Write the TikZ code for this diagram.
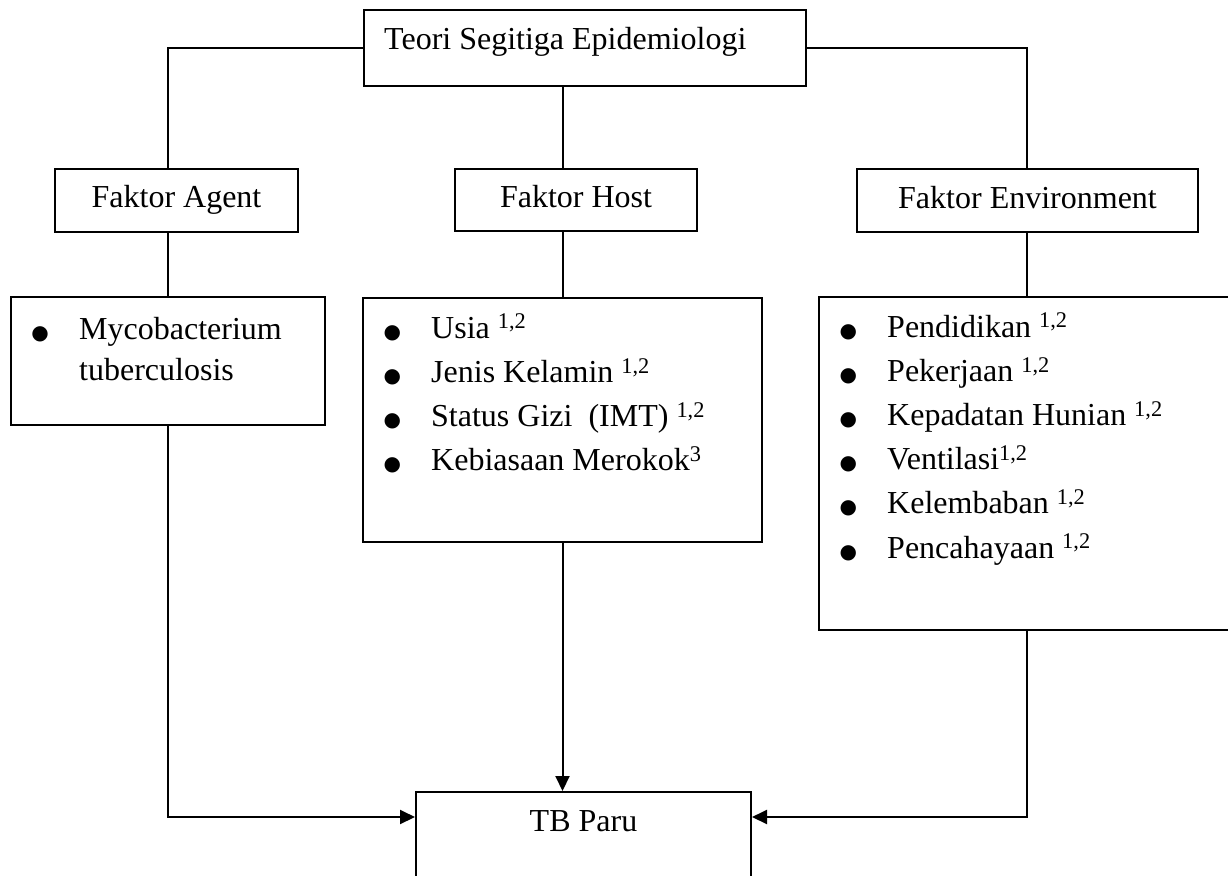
\documentclass[tikz,border=0pt]{standalone}
\usepackage{fontspec}
\setmainfont{Liberation Serif}
\newfontfamily\dejavu{DejaVu Sans}
\usepackage{tikz}
\usetikzlibrary{arrows.meta}
\tikzstyle{squared} = [rectangle, draw=black, line width=2pt, inner sep=0pt, text height=22pt, text depth=7pt, text centered]
\tikzstyle{label} = [inner sep=0pt]
\tikzstyle{connect} = [line width=2pt]
\tikzstyle{connectarrow} = [line width=2pt,-{Triangle[length=15pt,width=14pt]}]
\newcommand{\bul}[1]{\makebox[46pt][l]{\hspace{-1.7pt}{\dejavu\fontsize{20}{24}\selectfont ●}}#1}

\begin{document}
\begin{tikzpicture}[x=1pt,y=-1pt,font=\fontsize{32}{44.2}\selectfont]
			\clip (0,0) rectangle (1228,875);

			\node (top) [squared, minimum width=442, minimum height=76] at (585,48) {};
			\node (agent) [squared, minimum width=243, minimum height=63] at (176.5,200) {Faktor Agent};
			\node (host) [squared, minimum width=242, minimum height=62] at (576,200) {Faktor Host};
			\node (env) [squared, minimum width=341, minimum height=63] at (1027.5,200.5) {Faktor Environment};
			\node (myco) [squared, minimum width=314, minimum height=128] at (168,361) {};
			\node (hostlist) [squared, minimum width=399, minimum height=244] at (562.5,420) {};
			\node (envlist) [squared, minimum width=416, minimum height=333] at (1027,463.5) {};
			\node (tb) [squared, minimum width=335, minimum height=116] at (583.5,850) {};

			\node (toptext) [label, anchor=base west] at ([xshift=21pt,yshift=-40pt]top.north west) {Teori Segitiga Epidemiologi};
			\node (tbtext) [label, anchor=base] at ([yshift=-40pt]tb.north) {TB Paru};
			\node (mycotext) [label, anchor=base west] at ([xshift=23pt,yshift=-43pt]myco.north west) {\parbox[t]{290pt}{\fontsize{32}{41}\selectfont
				\bul{Mycobacterium}\\ \hspace*{46pt}tuberculosis}};
			\node (hosttext) [label, anchor=base west] at ([xshift=23pt,yshift=-41pt]hostlist.north west) {\parbox[t]{370pt}{%
				\bul{Usia \textsuperscript{1,2}}\\
				\bul{Jenis Kelamin \textsuperscript{1,2}}\\
				\bul{Status Gizi\ \ (IMT) \textsuperscript{1,2}}\\
				\bul{Kebiasaan Merokok\textsuperscript{3}}}};
			\node (envtext) [label, anchor=base west] at ([xshift=23pt,yshift=-41pt]envlist.north west) {\parbox[t]{380pt}{%
				\bul{Pendidikan \textsuperscript{1,2}}\\
				\bul{Pekerjaan \textsuperscript{1,2}}\\
				\bul{Kepadatan Hunian \textsuperscript{1,2}}\\
				\bul{Ventilasi\textsuperscript{1,2}}\\
				\bul{Kelembaban \textsuperscript{1,2}}\\
				\bul{Pencahayaan \textsuperscript{1,2}}}};

			\draw[connect] (top.west) -| ([xshift=-8.5pt]agent.north);
			\draw[connect] (myco.north |- agent.south) -- (myco.north);
			\draw[connectarrow] (myco.south) |- ([yshift=-26pt]tb.north west);
			\draw[connect] (top.south -| hostlist.north) -- (hostlist.north |- host.north);
			\draw[connect] (host.south -| hostlist.north) -- (hostlist.north);
			\draw[connectarrow] (hostlist.south) -- (hostlist.south |- tb.north);
			\draw[connect] (top.east) -| (envlist.north |- env.north);
			\draw[connect] (envlist.north |- env.south) -- (envlist.north);
			\draw[connectarrow] (envlist.south) |- ([yshift=-26pt]tb.north east);

\end{tikzpicture}
\end{document}
